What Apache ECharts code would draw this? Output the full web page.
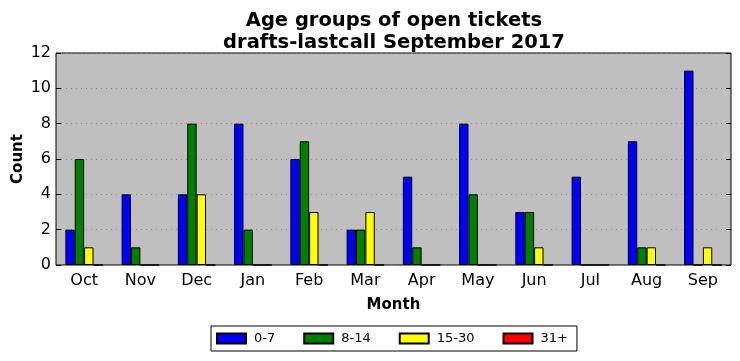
<!DOCTYPE html>
<html><head><meta charset="utf-8">
<script src="https://cdn.jsdelivr.net/npm/echarts@6/dist/echarts.min.js"></script>
<style>html,body{margin:0;padding:0;background:#fff}#c{width:740px;height:361px}</style>
</head><body><div id="c"></div>
<script>
const months = ['Oct','Nov','Dec','Jan','Feb','Mar','Apr','May','Jun','Jul','Aug','Sep'];
const age0to7 = [2,4,4,8,6,2,5,8,3,5,7,11];
const age8to14 = [6,1,8,2,7,2,1,4,3,0,1,0];
const age15to30 = [1,0,4,0,3,3,0,0,1,0,1,1];
const age31plus = [0,0,0,0,0,0,0,0,0,0,0,0];
const seriesNames = ['0-7','8-14','15-30','31+'];
const seriesColors = ['#0000ff','#008000','#ffff00','#ff0000'];
const yTicks = [0,2,4,6,8,10,12];

const font = 'DejaVu Sans';
const chart = echarts.init(document.getElementById('c'));
const data = [age0to7, age8to14, age15to30, age31plus];
chart.setOption({
  animation:false,
  title:{text:'Age groups of open tickets\ndrafts-lastcall September 2017', left:394, textAlign:'center', top:10, padding:0,
    textStyle:{fontFamily:font,fontWeight:'bold',fontSize:19.5,lineHeight:22,color:'#000'}},
  grid:{left:56,right:9,top:53,bottom:96,show:true,backgroundColor:'#bfbfbf',borderColor:'#000',borderWidth:1,
    outerBoundsMode:'none',containLabel:false},
  legend:{top:326,left:211, itemWidth:29,itemHeight:10,itemGap:28,
    borderColor:'#000',borderWidth:1,padding:[6,9,6,5],
    textStyle:{fontFamily:font,fontSize:13,color:'#000',padding:[0,0,0,3]}, data:seriesNames, icon:'rect'},
  xAxis:[{type:'category',data:months,name:'Month',nameLocation:'middle',nameGap:33,
    nameTextStyle:{fontFamily:font,fontWeight:'bold',fontSize:15,color:'#000'},
    axisLine:{show:false},axisTick:{inside:true,alignWithLabel:true,length:5,lineStyle:{color:'#000'}},
    axisLabel:{fontFamily:font,fontSize:16,color:'#000',margin:8},splitLine:{show:false}},
   {type:'category',data:months,position:'top',axisLine:{show:false},
    axisTick:{inside:true,alignWithLabel:true,length:5,lineStyle:{color:'#000'}},axisLabel:{show:false}}],
  yAxis:[{type:'value',min:0,max:12,interval:2,name:'Count',nameLocation:'middle',nameGap:30,nameMoveOverlap:false,
    nameTextStyle:{fontFamily:font,fontWeight:'bold',fontSize:15,color:'#000'},
    axisLine:{show:false},axisTick:{show:true,inside:true,length:5,lineStyle:{color:'#000'}},
    axisLabel:{fontFamily:font,fontSize:16,color:'#000',margin:5,formatter:v=>yTicks.includes(v)?String(v):''},
    splitLine:{show:true,lineStyle:{color:'#8a8a8a',type:[1,4],width:1}}},
   {type:'value',min:0,max:12,interval:2,position:'right',axisLine:{show:false},
    axisTick:{show:true,inside:true,length:5,lineStyle:{color:'#000'}},axisLabel:{show:false},splitLine:{show:false}}],
  series:data.map((d,i)=>({name:seriesNames[i],type:'bar',data:d,barGap:'0%',barCategoryGap:'33.3%',
    itemStyle:{color:seriesColors[i],borderColor:'#000',borderWidth:1}}))
});
</script></body></html>
